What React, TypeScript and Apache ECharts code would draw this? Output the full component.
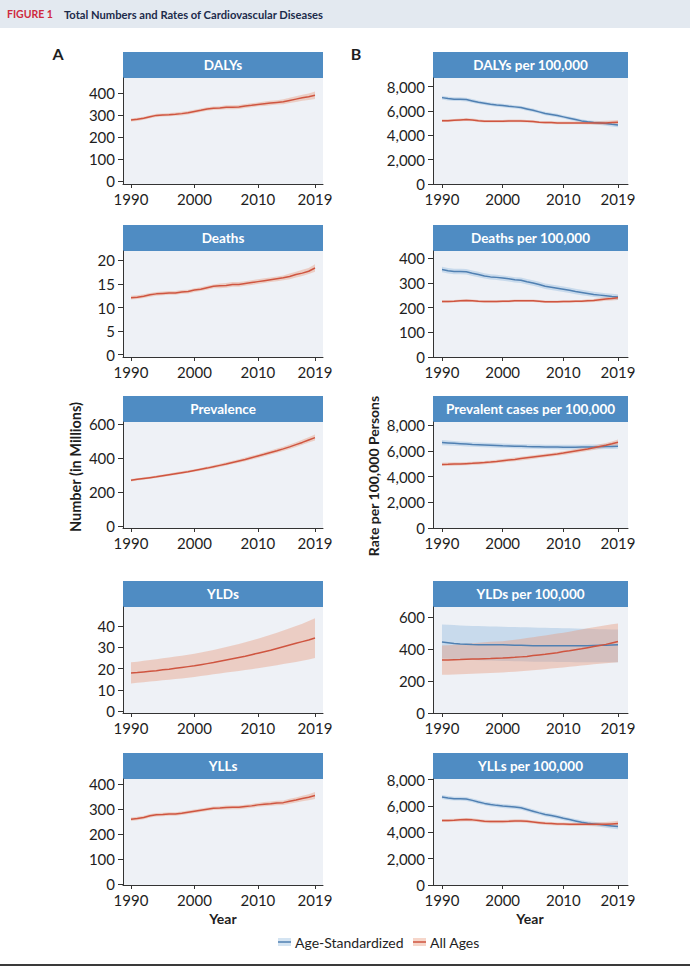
import React, { useEffect, useRef } from 'react';
import * as echarts from 'echarts';

// ---------- DATA ----------
const years = [1990, 1991, 1992, 1993, 1994, 1995, 1996, 1997, 1998, 1999, 2000, 2001, 2002, 2003, 2004, 2005, 2006, 2007, 2008, 2009, 2010, 2011, 2012, 2013, 2014, 2015, 2016, 2017, 2018, 2019];
const xTicks = [1990, 2000, 2010, 2019];

// Panel A: total numbers (millions), All Ages
const dalysNum = [279, 282, 287, 294, 300, 302, 303, 305, 308, 312, 318, 323, 329, 332, 334, 337, 337, 338, 343, 346, 350, 353, 356, 359, 362, 368, 374, 380, 385, 392];
const dalysNumLo = [272, 275, 280, 287, 293, 295, 296, 298, 300, 304, 310, 315, 321, 324, 326, 328, 328, 329, 334, 337, 341, 343, 346, 349, 351, 356, 361, 366, 370, 375];
const dalysNumHi = [286, 289, 294, 301, 307, 309, 311, 313, 316, 320, 326, 331, 337, 340, 342, 346, 346, 347, 352, 355, 359, 363, 366, 369, 373, 380, 387, 394, 400, 409];

const deathsNum = [12.1, 12.2, 12.4, 12.7, 12.9, 13.0, 13.1, 13.1, 13.3, 13.4, 13.7, 13.9, 14.2, 14.5, 14.6, 14.7, 14.9, 14.9, 15.1, 15.3, 15.5, 15.7, 15.9, 16.1, 16.3, 16.6, 17.0, 17.3, 17.7, 18.4];
const deathsNumLo = [11.7, 11.8, 12.0, 12.3, 12.5, 12.6, 12.7, 12.7, 12.9, 13.0, 13.3, 13.5, 13.8, 14.1, 14.1, 14.2, 14.4, 14.4, 14.6, 14.8, 15.0, 15.2, 15.4, 15.6, 15.8, 16.0, 16.4, 16.7, 17.1, 17.6];
const deathsNumHi = [12.5, 12.6, 12.8, 13.1, 13.3, 13.4, 13.5, 13.5, 13.7, 13.8, 14.1, 14.3, 14.6, 14.9, 15.1, 15.2, 15.4, 15.4, 15.6, 15.8, 16.0, 16.2, 16.4, 16.6, 16.8, 17.2, 17.6, 18.0, 18.4, 19.2];

const prevNum = [271, 276, 281, 286, 291, 297, 303, 309, 315, 321, 328, 335, 342, 350, 358, 366, 375, 384, 393, 403, 413, 423, 434, 444, 455, 467, 480, 493, 507, 521];
const prevNumLo = [264, 269, 274, 279, 284, 290, 296, 302, 308, 314, 320, 327, 334, 341, 349, 357, 366, 374, 383, 392, 402, 412, 422, 432, 443, 454, 466, 479, 492, 505];
const prevNumHi = [278, 283, 288, 293, 299, 305, 311, 317, 323, 329, 336, 343, 351, 359, 367, 376, 385, 394, 404, 414, 424, 435, 446, 457, 468, 481, 494, 508, 523, 539];

const yldsNum = [17.9, 18.1, 18.4, 18.7, 19.0, 19.4, 19.7, 20.1, 20.5, 20.9, 21.3, 21.8, 22.3, 22.8, 23.4, 24.0, 24.6, 25.2, 25.8, 26.5, 27.2, 27.9, 28.6, 29.4, 30.2, 31.0, 31.8, 32.6, 33.4, 34.3];
const yldsNumLo = [13.0, 13.3, 13.6, 13.9, 14.2, 14.5, 14.8, 15.1, 15.4, 15.7, 16.1, 16.5, 16.9, 17.3, 17.7, 18.1, 18.5, 18.9, 19.3, 19.7, 20.1, 20.6, 21.1, 21.6, 22.1, 22.6, 23.1, 23.6, 24.2, 24.9];
const yldsNumHi = [22.9, 23.2, 23.6, 24.0, 24.4, 24.8, 25.2, 25.6, 26.0, 26.4, 26.9, 27.5, 28.1, 28.7, 29.4, 30.1, 30.8, 31.5, 32.3, 33.1, 34.0, 34.9, 35.8, 36.8, 37.8, 38.8, 39.9, 41.0, 42.2, 43.5];

const yllsNum = [260, 263, 267, 274, 278, 279, 281, 281, 284, 288, 292, 296, 300, 304, 305, 307, 308, 308, 311, 314, 318, 321, 323, 326, 327, 333, 338, 344, 349, 356];
const yllsNumLo = [253, 256, 260, 267, 271, 272, 274, 274, 277, 281, 285, 289, 293, 297, 298, 299, 300, 300, 303, 306, 310, 312, 314, 317, 318, 323, 328, 333, 337, 342];
const yllsNumHi = [267, 270, 274, 281, 285, 286, 288, 288, 291, 295, 299, 303, 307, 311, 312, 315, 316, 316, 319, 322, 326, 330, 332, 335, 336, 343, 348, 355, 361, 370];

// Panel B: rates per 100,000 — Age-Standardized (Std) and All Ages (All)
const dalysRateStd = [7090, 7010, 6960, 6960, 6930, 6820, 6710, 6630, 6550, 6490, 6440, 6380, 6330, 6270, 6160, 6050, 5920, 5780, 5700, 5620, 5510, 5400, 5290, 5180, 5100, 5040, 5010, 4960, 4900, 4850];
const dalysRateStdLo = [6930, 6860, 6810, 6810, 6780, 6670, 6570, 6490, 6410, 6350, 6300, 6240, 6190, 6130, 6020, 5910, 5780, 5640, 5560, 5480, 5370, 5260, 5150, 5040, 4960, 4890, 4850, 4790, 4720, 4650];
const dalysRateStdHi = [7250, 7160, 7110, 7110, 7080, 6970, 6850, 6770, 6690, 6630, 6580, 6520, 6470, 6410, 6300, 6190, 6060, 5920, 5840, 5760, 5650, 5540, 5430, 5320, 5240, 5190, 5170, 5130, 5080, 5050];
const dalysRateAll = [5200, 5200, 5230, 5260, 5290, 5260, 5200, 5150, 5150, 5150, 5150, 5180, 5180, 5180, 5150, 5120, 5070, 5040, 5040, 5010, 5010, 5010, 5010, 5010, 5010, 5010, 5010, 5010, 5040, 5070];
const dalysRateAllLo = [5090, 5090, 5120, 5150, 5180, 5150, 5090, 5040, 5040, 5040, 5040, 5070, 5070, 5070, 5040, 5010, 4960, 4930, 4930, 4900, 4900, 4900, 4900, 4900, 4890, 4880, 4870, 4860, 4870, 4880];
const dalysRateAllHi = [5310, 5310, 5340, 5370, 5400, 5370, 5310, 5260, 5260, 5260, 5260, 5290, 5290, 5290, 5260, 5230, 5180, 5150, 5150, 5120, 5120, 5120, 5130, 5140, 5150, 5160, 5170, 5190, 5220, 5260];

const deathsRateStd = [355, 350, 347, 347, 346, 340, 335, 329, 325, 323, 320, 317, 313, 311, 305, 300, 294, 287, 283, 279, 275, 271, 266, 262, 258, 254, 251, 248, 245, 243];
const deathsRateStdLo = [344, 339, 336, 336, 335, 329, 324, 318, 314, 312, 309, 306, 302, 300, 294, 289, 283, 276, 272, 268, 264, 260, 255, 251, 247, 243, 240, 237, 234, 231];
const deathsRateStdHi = [366, 361, 358, 358, 357, 351, 346, 340, 336, 334, 331, 328, 324, 322, 316, 311, 305, 298, 294, 290, 286, 282, 277, 273, 269, 265, 262, 259, 257, 255];
const deathsRateAll = [225, 225, 226, 228, 229, 228, 226, 225, 225, 225, 226, 226, 228, 228, 228, 228, 226, 224, 224, 224, 225, 225, 226, 226, 228, 229, 232, 235, 237, 240];
const deathsRateAllLo = [220, 220, 221, 223, 224, 223, 221, 220, 220, 220, 221, 221, 223, 223, 223, 223, 221, 219, 219, 219, 220, 220, 221, 221, 222, 223, 225, 228, 229, 231];
const deathsRateAllHi = [230, 230, 231, 233, 234, 233, 231, 230, 230, 230, 231, 231, 233, 233, 233, 233, 231, 229, 229, 229, 230, 230, 231, 231, 234, 235, 239, 242, 245, 249];

const prevRateStd = [6650, 6620, 6590, 6560, 6530, 6500, 6480, 6460, 6440, 6420, 6400, 6385, 6370, 6355, 6340, 6330, 6320, 6310, 6300, 6295, 6290, 6290, 6290, 6295, 6300, 6310, 6320, 6335, 6350, 6370];
const prevRateStdLo = [6450, 6430, 6400, 6380, 6350, 6330, 6310, 6290, 6270, 6250, 6230, 6220, 6200, 6190, 6170, 6160, 6150, 6140, 6130, 6120, 6110, 6110, 6110, 6110, 6110, 6120, 6130, 6140, 6150, 6160];
const prevRateStdHi = [6850, 6810, 6780, 6740, 6710, 6680, 6650, 6630, 6610, 6590, 6570, 6550, 6540, 6520, 6510, 6500, 6490, 6480, 6470, 6470, 6470, 6470, 6470, 6480, 6490, 6500, 6510, 6530, 6550, 6580];
const prevRateAll = [4950, 4960, 4975, 4990, 5010, 5030, 5060, 5090, 5130, 5180, 5240, 5290, 5340, 5400, 5460, 5520, 5580, 5640, 5700, 5760, 5830, 5910, 5990, 6070, 6150, 6240, 6340, 6440, 6550, 6670];
const prevRateAllLo = [4820, 4830, 4840, 4860, 4880, 4900, 4930, 4960, 5000, 5050, 5100, 5150, 5200, 5260, 5320, 5380, 5440, 5500, 5560, 5620, 5690, 5760, 5840, 5920, 6000, 6080, 6170, 6260, 6360, 6460];
const prevRateAllHi = [5080, 5090, 5110, 5120, 5140, 5160, 5190, 5220, 5260, 5310, 5380, 5430, 5480, 5540, 5600, 5660, 5720, 5780, 5840, 5900, 5970, 6060, 6140, 6220, 6300, 6400, 6510, 6620, 6740, 6880];

const yldsRateStd = [442, 438, 434, 431, 429, 427, 426, 426, 425, 425, 425, 424, 423, 422, 421, 420, 420, 419, 419, 419, 419, 419, 419, 420, 420, 421, 422, 423, 424, 425];
const yldsRateStdLo = [340, 338, 336, 334, 332, 330, 329, 328, 327, 326, 325, 324, 323, 322, 321, 320, 320, 319, 319, 318, 318, 318, 317, 317, 317, 316, 316, 316, 316, 316];
const yldsRateStdHi = [552, 550, 548, 546, 544, 543, 542, 541, 540, 539, 538, 537, 536, 535, 534, 533, 532, 531, 530, 530, 529, 528, 527, 526, 525, 524, 523, 522, 521, 520];
const yldsRateAll = [330, 331, 332, 333, 335, 336, 337, 339, 340, 342, 343, 345, 347, 350, 353, 358, 362, 366, 371, 376, 383, 388, 394, 400, 407, 414, 421, 428, 437, 446];
const yldsRateAllLo = [238, 239, 240, 242, 243, 245, 246, 248, 250, 251, 253, 255, 257, 260, 263, 266, 270, 273, 277, 280, 284, 288, 292, 296, 300, 304, 307, 310, 313, 316];
const yldsRateAllHi = [421, 423, 426, 429, 432, 435, 438, 441, 444, 446, 448, 452, 457, 462, 467, 473, 478, 484, 490, 495, 501, 507, 514, 521, 528, 535, 541, 547, 553, 558];

const yllsRateStd = [6680, 6600, 6550, 6550, 6520, 6420, 6290, 6190, 6110, 6040, 5990, 5960, 5910, 5860, 5730, 5600, 5470, 5350, 5270, 5170, 5060, 4960, 4860, 4760, 4680, 4630, 4580, 4530, 4480, 4430];
const yllsRateStdLo = [6530, 6450, 6400, 6400, 6370, 6270, 6140, 6040, 5960, 5890, 5840, 5810, 5760, 5710, 5580, 5450, 5320, 5200, 5120, 5020, 4910, 4810, 4710, 4610, 4530, 4470, 4410, 4350, 4290, 4230];
const yllsRateStdHi = [6830, 6750, 6700, 6700, 6670, 6570, 6440, 6340, 6260, 6190, 6140, 6110, 6060, 6010, 5880, 5750, 5620, 5500, 5420, 5320, 5210, 5110, 5010, 4910, 4830, 4790, 4750, 4710, 4670, 4630];
const yllsRateAll = [4890, 4890, 4910, 4940, 4960, 4940, 4890, 4830, 4810, 4810, 4810, 4830, 4860, 4860, 4830, 4780, 4730, 4680, 4660, 4630, 4630, 4600, 4600, 4600, 4600, 4600, 4600, 4600, 4630, 4660];
const yllsRateAllLo = [4770, 4770, 4790, 4820, 4840, 4820, 4770, 4710, 4690, 4690, 4690, 4710, 4740, 4740, 4710, 4660, 4610, 4560, 4540, 4510, 4510, 4480, 4480, 4480, 4470, 4460, 4450, 4440, 4450, 4460];
const yllsRateAllHi = [5010, 5010, 5030, 5060, 5080, 5060, 5010, 4950, 4930, 4930, 4930, 4950, 4980, 4980, 4950, 4900, 4850, 4800, 4780, 4750, 4750, 4720, 4720, 4730, 4740, 4750, 4760, 4780, 4820, 4870];

// tick label values
const ticksA1 = [0, 100, 200, 300, 400];
const ticksA2 = [0, 5, 10, 15, 20];
const ticksA3 = [0, 200, 400, 600];
const ticksA4 = [0, 10, 20, 30, 40];
const ticksRate8k = [0, 2000, 4000, 6000, 8000];
const ticksB2 = [0, 100, 200, 300, 400];
const ticksB4 = [0, 200, 400, 600];

const legendNames = ['Age-Standardized', 'All Ages'];

// ---------- STYLE / LAYOUT ----------
const FONT = 'Lato, "Open Sans", "DejaVu Sans", sans-serif';
const RED_LINE = '#cf5540';
const RED_BAND = 'rgba(232,148,115,0.38)';
const BLUE_LINE = '#5080b2';
const BLUE_BAND = 'rgba(125,172,215,0.33)';
const STRIP = '#4f8cc3';
const PLOT_BG = '#eef1f6';
const INK = '#1e1e1e';

const COLS = [
  { left: 123, width: 200, xMin: 1988.74, xMax: 2020.26 },
  { left: 433, width: 195, xMin: 1988.52, xMax: 2020.65 },
];
const ROW_TOPS = [78, 251, 422, 607, 779];
const PLOT_H = 106;
const STRIP_H = 26;

type Band = { mid: number[]; lo: number[]; hi: number[]; kind: 'red' | 'blue' };
type Panel = { title: string; col: number; row: number; yMin: number; yMax: number; yTicks: number[]; bands: Band[] };

const panels: Panel[] = [
  { title: 'DALYs', col: 0, row: 0, yMin: -12, yMax: 470, yTicks: ticksA1, bands: [{ mid: dalysNum, lo: dalysNumLo, hi: dalysNumHi, kind: 'red' }] },
  { title: 'Deaths', col: 0, row: 1, yMin: -0.5, yMax: 22, yTicks: ticksA2, bands: [{ mid: deathsNum, lo: deathsNumLo, hi: deathsNumHi, kind: 'red' }] },
  { title: 'Prevalence', col: 0, row: 2, yMin: -10, yMax: 613, yTicks: ticksA3, bands: [{ mid: prevNum, lo: prevNumLo, hi: prevNumHi, kind: 'red' }] },
  { title: 'YLDs', col: 0, row: 3, yMin: -0.8, yMax: 48.8, yTicks: ticksA4, bands: [{ mid: yldsNum, lo: yldsNumLo, hi: yldsNumHi, kind: 'red' }] },
  { title: 'YLLs', col: 0, row: 4, yMin: -4, yMax: 422, yTicks: ticksA1, bands: [{ mid: yllsNum, lo: yllsNumLo, hi: yllsNumHi, kind: 'red' }] },
  { title: 'DALYs per 100,000', col: 1, row: 0, yMin: 0, yMax: 8700, yTicks: ticksRate8k, bands: [
    { mid: dalysRateStd, lo: dalysRateStdLo, hi: dalysRateStdHi, kind: 'blue' },
    { mid: dalysRateAll, lo: dalysRateAllLo, hi: dalysRateAllHi, kind: 'red' }] },
  { title: 'Deaths per 100,000', col: 1, row: 1, yMin: 0, yMax: 430, yTicks: ticksB2, bands: [
    { mid: deathsRateStd, lo: deathsRateStdLo, hi: deathsRateStdHi, kind: 'blue' },
    { mid: deathsRateAll, lo: deathsRateAllLo, hi: deathsRateAllHi, kind: 'red' }] },
  { title: 'Prevalent cases per 100,000', col: 1, row: 2, yMin: 0, yMax: 8250, yTicks: ticksRate8k, bands: [
    { mid: prevRateStd, lo: prevRateStdLo, hi: prevRateStdHi, kind: 'blue' },
    { mid: prevRateAll, lo: prevRateAllLo, hi: prevRateAllHi, kind: 'red' }] },
  { title: 'YLDs per 100,000', col: 1, row: 3, yMin: 0, yMax: 661, yTicks: ticksB4, bands: [
    { mid: yldsRateStd, lo: yldsRateStdLo, hi: yldsRateStdHi, kind: 'blue' },
    { mid: yldsRateAll, lo: yldsRateAllLo, hi: yldsRateAllHi, kind: 'red' }] },
  { title: 'YLLs per 100,000', col: 1, row: 4, yMin: 0, yMax: 8040, yTicks: ticksRate8k, bands: [
    { mid: yllsRateStd, lo: yllsRateStdLo, hi: yllsRateStdHi, kind: 'blue' },
    { mid: yllsRateAll, lo: yllsRateAllLo, hi: yllsRateAllHi, kind: 'red' }] },
];

function buildOption() {
  const grid: any[] = [];
  const xAxis: any[] = [];
  const yAxis: any[] = [];
  const series: any[] = [];
  const graphic: any[] = [];

  // header
  graphic.push({ type: 'rect', shape: { x: 0, y: 0, width: 690, height: 28 }, style: { fill: '#e3e9f0' } });
  graphic.push({ type: 'text', x: 7, y: 14, style: { text: 'FIGURE 1', fill: '#cf2a3e', font: `bold 10.5px ${FONT}`, textAlign: 'left', textVerticalAlign: 'middle' } });
  graphic.push({ type: 'text', x: 64, y: 14, style: { text: 'Total Numbers and Rates of Cardiovascular Diseases', fill: '#1c2b4b', font: `bold 11.2px ${FONT}`, textAlign: 'left', textVerticalAlign: 'middle' } });
  // panel letters
  graphic.push({ type: 'text', x: 58, y: 53, style: { text: 'A', fill: INK, font: `bold 16px ${FONT}`, textAlign: 'center', textVerticalAlign: 'middle' } });
  graphic.push({ type: 'text', x: 356, y: 53, style: { text: 'B', fill: INK, font: `bold 16px ${FONT}`, textAlign: 'center', textVerticalAlign: 'middle' } });
  // axis titles
  graphic.push({ type: 'text', x: 75, y: 467, rotation: Math.PI / 2, style: { text: 'Number (in Millions)', fill: INK, font: `bold 14.5px ${FONT}`, textAlign: 'center', textVerticalAlign: 'middle' } });
  graphic.push({ type: 'text', x: 373, y: 476, rotation: Math.PI / 2, style: { text: 'Rate per 100,000 Persons', fill: INK, font: `bold 14px ${FONT}`, textAlign: 'center', textVerticalAlign: 'middle' } });
  graphic.push({ type: 'text', x: 223, y: 918, style: { text: 'Year', fill: INK, font: `bold 14px ${FONT}`, textAlign: 'center', textVerticalAlign: 'middle' } });
  graphic.push({ type: 'text', x: 530, y: 918, style: { text: 'Year', fill: INK, font: `bold 14px ${FONT}`, textAlign: 'center', textVerticalAlign: 'middle' } });
  // legend
  const legendItems = [
    { x: 278, band: BLUE_BAND, line: BLUE_LINE, name: legendNames[0] },
    { x: 413, band: RED_BAND, line: RED_LINE, name: legendNames[1] },
  ];
  legendItems.forEach((it) => {
    graphic.push({ type: 'rect', shape: { x: it.x, y: 938, width: 13, height: 8 }, style: { fill: it.band } });
    graphic.push({ type: 'line', shape: { x1: it.x, y1: 942, x2: it.x + 13, y2: 942 }, style: { stroke: it.line, lineWidth: 1.5 } });
    graphic.push({ type: 'text', x: it.x + 17, y: 942, style: { text: it.name, fill: INK, font: `14px ${FONT}`, textAlign: 'left', textVerticalAlign: 'middle' } });
  });
  // bottom rule
  graphic.push({ type: 'rect', shape: { x: 0, y: 964, width: 690, height: 2 }, style: { fill: '#3a3a3a' } });

  panels.forEach((p, i) => {
    const c = COLS[p.col];
    const top = ROW_TOPS[p.row];
    grid.push({ left: c.left, top, width: c.width, height: PLOT_H, show: true, backgroundColor: PLOT_BG, borderWidth: 0, containLabel: false, outerBoundsMode: 'none' });
    xAxis.push({
      type: 'value', gridIndex: i, min: c.xMin, max: c.xMax,
      axisLine: { show: true, onZero: false, lineStyle: { color: '#333', width: 1 } },
      axisTick: { show: true, length: 4, customValues: xTicks, lineStyle: { color: '#333' } },
      axisLabel: { customValues: xTicks, fontSize: 15, color: INK, fontFamily: FONT, margin: 7, formatter: (v: number) => String(v) },
      splitLine: { show: false },
    });
    yAxis.push({
      type: 'value', gridIndex: i, min: p.yMin, max: p.yMax,
      axisLine: { show: true, onZero: false, lineStyle: { color: '#333', width: 1 } },
      axisTick: { show: true, length: 5, customValues: p.yTicks, lineStyle: { color: '#333' } },
      axisLabel: { customValues: p.yTicks, fontSize: 15, color: INK, fontFamily: FONT, margin: 8, formatter: (v: number) => v.toLocaleString('en-US') },
      splitLine: { show: false },
    });
    graphic.push({ type: 'rect', shape: { x: c.left, y: top - STRIP_H, width: c.width, height: STRIP_H }, style: { fill: STRIP } });
    graphic.push({ type: 'text', x: c.left + c.width / 2, y: top - STRIP_H / 2, style: { text: p.title, fill: '#ffffff', font: `bold 13.5px ${FONT}`, textAlign: 'center', textVerticalAlign: 'middle' } });

    p.bands.forEach((b) => {
      const fill = b.kind === 'red' ? RED_BAND : BLUE_BAND;
      series.push({
        type: 'custom', xAxisIndex: i, yAxisIndex: i, silent: true, clip: true, z: 1,
        data: years.map((y, k) => [y, b.lo[k], b.hi[k]]),
        encode: { x: 0, y: [1, 2] },
        renderItem: (params: any, api: any) => {
          if (params.dataIndex !== 0) return null;
          const pts: number[][] = [];
          for (let k = 0; k < years.length; k++) pts.push(api.coord([years[k], b.hi[k]]));
          for (let k = years.length - 1; k >= 0; k--) pts.push(api.coord([years[k], b.lo[k]]));
          return { type: 'polygon', shape: { points: pts }, style: { fill } };
        },
      });
    });
    p.bands.forEach((b) => {
      series.push({
        type: 'line', xAxisIndex: i, yAxisIndex: i, silent: true, z: 3,
        name: b.kind === 'red' ? legendNames[1] : legendNames[0],
        data: years.map((y, k) => [y, b.mid[k]]),
        symbol: 'none',
        lineStyle: { color: b.kind === 'red' ? RED_LINE : BLUE_LINE, width: 1.5 },
      });
    });
  });

  return { animation: false, backgroundColor: '#ffffff', grid, xAxis, yAxis, series, graphic };
}

export default function App() {
  const ref = useRef<HTMLDivElement>(null);
  useEffect(() => {
    if (!ref.current) return;
    const chart = echarts.init(ref.current, undefined, { renderer: 'svg' });
    chart.setOption(buildOption() as any);
    return () => chart.dispose();
  }, []);
  return <div ref={ref} style={{ position: 'fixed', left: 0, top: 0, width: 690, height: 969 }} />;
}
